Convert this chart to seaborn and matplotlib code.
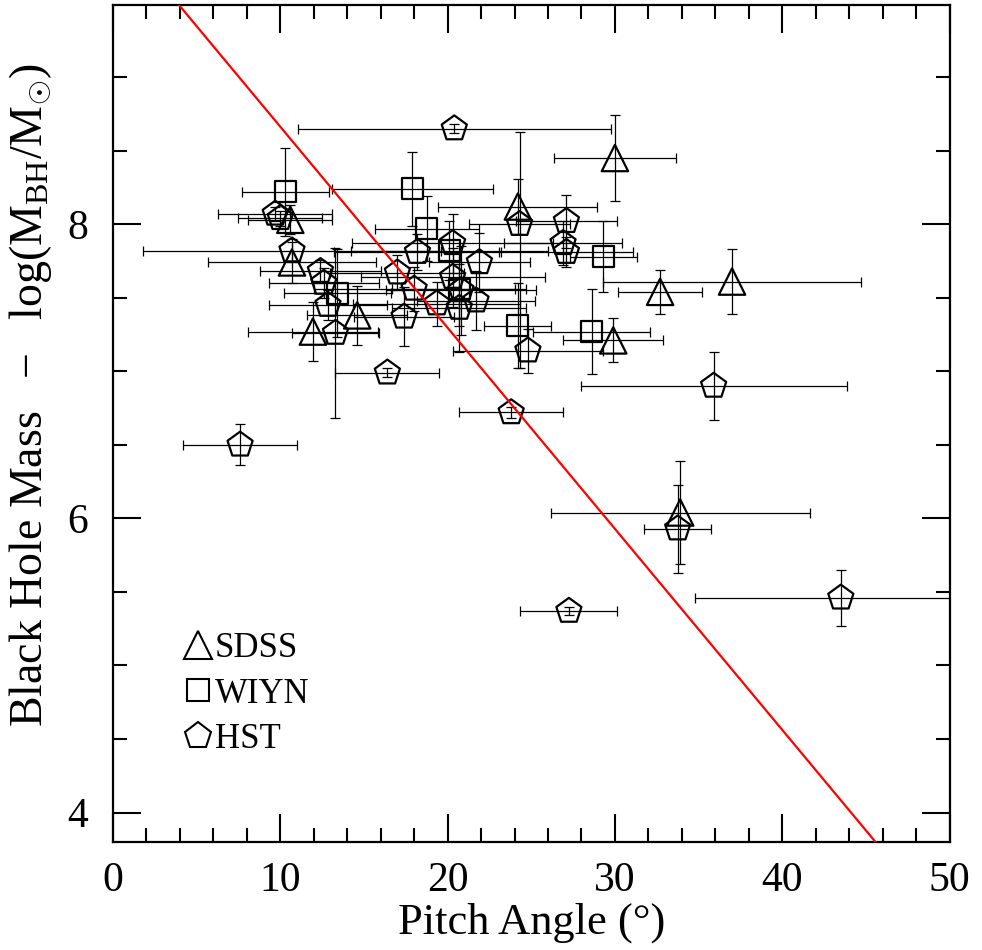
import numpy as np
import pandas as pd
import matplotlib
matplotlib.use("Agg")
import matplotlib.pyplot as plt
import seaborn as sns
from matplotlib.lines import Line2D
from matplotlib.ticker import MultipleLocator

# ---------------- data ----------------
sdss_x = [10.6, 10.7, 11.95, 14.6, 24.2, 30.0, 32.7, 37.0, 29.9, 33.9]
sdss_y = [8.03, 7.74, 7.27, 7.38, 8.12, 8.45, 7.54, 7.61, 7.21, 6.04]
sdss_xerr = [2.5, 5.0, 3.9, 3.0, 4.75, 3.65, 2.5, 7.7, 3.0, 7.75]
sdss_yerr = [0.1, 0.14, 0.2, 0.2, 0.19, 0.29, 0.15, 0.22, 0.15, 0.35]

wiyn_x = [10.3, 17.9, 18.75, 20.1, 13.4, 20.7, 24.2, 28.6, 29.3]
wiyn_y = [8.22, 8.24, 7.97, 7.82, 7.53, 7.56, 7.31, 7.27, 7.78]
wiyn_xerr = [2.6, 4.8, 3.1, 5.9, 3.2, 4.0, 2.0, 3.5, 2.0]
wiyn_yerr = [0.3, 0.25, 0.22, 0.2, 0.3, 0.25, 0.29, 0.29, 0.24]

hst_x = [20.4, 9.7, 10.0, 10.7, 12.4, 12.6, 12.85, 13.3, 17.4, 16.4, 7.6,
         23.8, 24.8, 35.9, 33.75, 43.5, 27.25, 24.3, 27.1, 18.2, 20.3, 21.9,
         17.0, 26.9, 27.1, 20.3, 20.8, 18.0, 21.7, 19.35, 20.7]
hst_y = [8.65, 8.07, 8.04, 7.82, 7.68, 7.60, 7.45, 7.26, 7.37, 6.99, 6.50,
         6.72, 7.14, 6.90, 5.93, 5.46, 5.37, 8.00, 8.02, 7.81, 7.87, 7.74,
         7.67, 7.87, 7.81, 7.64, 7.55, 7.56, 7.48, 7.46, 7.43]
hst_xerr = [9.35, 3.4, 2.5, 8.9, 3.6, 3.3, 3.5, 2.6, 3.0, 3.1, 3.4,
            3.1, 4.5, 7.95, 2.0, 8.7, 2.9, 3.0, 3.0, 5.0, 6.0, 3.0,
            4.0, 3.5, 4.0, 5.5, 4.5, 6.0, 3.5, 5.0, 4.0]
hst_yerr_lo = [0.03, 0.05, 0.05, 0.08, 0.08, 0.1, 0.1, 0.58, 0.2, 0.03, 0.14,
               0.04, 0.15, 0.23, 0.3, 0.19, 0.03, 0.98, 0.18, 0.12, 0.2, 0.2,
               0.12, 0.15, 0.1, 0.2, 0.3, 0.15, 0.2, 0.15, 0.3]
hst_yerr_hi = [0.03, 0.05, 0.05, 0.08, 0.08, 0.1, 0.1, 0.58, 0.2, 0.03, 0.14,
               0.04, 0.15, 0.23, 0.3, 0.19, 0.03, 0.63, 0.18, 0.12, 0.2, 0.2,
               0.12, 0.15, 0.1, 0.2, 0.3, 0.15, 0.2, 0.15, 0.3]

fit_intercept = 10.03
fit_slope = -0.1367

surveys = ["SDSS", "WIYN", "HST"]

# ---------------- style ----------------
sns.set_theme(style="ticks")
plt.rcParams["font.family"] = ["Liberation Serif", "DejaVu Serif"]
plt.rcParams["mathtext.fontset"] = "custom"
plt.rcParams["mathtext.rm"] = "Liberation Serif"
plt.rcParams["mathtext.it"] = "Liberation Serif:italic"
plt.rcParams["text.color"] = "black"
plt.rcParams["axes.labelcolor"] = "black"
plt.rcParams["xtick.color"] = "black"
plt.rcParams["ytick.color"] = "black"

fig = plt.figure(figsize=(9.82, 9.5), dpi=100)
ax = fig.add_axes([0.115, 0.1137, 0.852, 0.881])

df = pd.DataFrame({
    "pitch": sdss_x + wiyn_x + hst_x,
    "mass": sdss_y + wiyn_y + hst_y,
    "survey": ["SDSS"] * len(sdss_x) + ["WIYN"] * len(wiyn_x) + ["HST"] * len(hst_x),
})

markers = {"SDSS": "^", "WIYN": "s", "HST": "p"}
sizes = {"SDSS": 19, "WIYN": 15, "HST": 19}

# error bars
ebkw = dict(fmt="none", ecolor="black", elinewidth=0.9, capsize=3.5, capthick=0.9, zorder=2)
ax.errorbar(sdss_x, sdss_y, xerr=sdss_xerr, yerr=sdss_yerr, **ebkw)
ax.errorbar(wiyn_x, wiyn_y, xerr=wiyn_xerr, yerr=wiyn_yerr, **ebkw)
ax.errorbar(hst_x, hst_y, xerr=hst_xerr, yerr=[hst_yerr_lo, hst_yerr_hi], **ebkw)

# markers via seaborn
for s in surveys:
    sub = df[df["survey"] == s]
    sns.scatterplot(data=sub, x="pitch", y="mass", marker=markers[s],
                    s=sizes[s] ** 2, facecolor="none", edgecolor="black",
                    linewidth=1.6, ax=ax, zorder=3, legend=False)
for coll in ax.collections:
    if coll.__class__.__name__ == "PathCollection":
        coll.set_facecolor("none")
        coll.set_edgecolor("black")

# fit line
xl = np.array([0.0, 50.0])
ax.plot(xl, fit_intercept + fit_slope * xl, color="red", lw=1.6, zorder=4)

ax.set_xlim(0, 50)
ax.set_ylim(3.8, 9.49)
ax.xaxis.set_major_locator(MultipleLocator(10))
ax.xaxis.set_minor_locator(MultipleLocator(2))
ax.yaxis.set_major_locator(MultipleLocator(2))
ax.yaxis.set_minor_locator(MultipleLocator(0.5))
ax.tick_params(which="both", direction="in", top=True, right=True, width=1.5,
               colors="black", labelsize=30)
ax.tick_params(which="major", length=20)
ax.tick_params(which="minor", length=10)
ax.tick_params(axis="x", pad=14)
ax.tick_params(axis="y", pad=18)
for sp in ax.spines.values():
    sp.set_linewidth(1.6)
    sp.set_color("black")

ax.set_xlabel("Pitch Angle (°)", fontsize=32, labelpad=2, color="black")
ax.set_ylabel(r"Black Hole Mass $\;\,-\;\,$ log(M$_{\rm BH}$/M$_{\odot}$)", fontsize=33,
              color="black")
ax.yaxis.set_label_coords(-0.07, 0.534)

handles = [Line2D([], [], ls="none", marker=markers[s], markersize=sizes[s] + 1,
                  markerfacecolor="none", markeredgecolor="black", markeredgewidth=1.5)
           for s in surveys]
leg = ax.legend(handles, surveys, loc="upper left", bbox_to_anchor=(0.068, 0.267),
                frameon=False, fontsize=25, handlelength=0.8, handletextpad=0.1,
                labelspacing=0.35, borderaxespad=0)
for t in leg.get_texts():
    t.set_color("black")

fig.savefig("out.png", dpi=100)
